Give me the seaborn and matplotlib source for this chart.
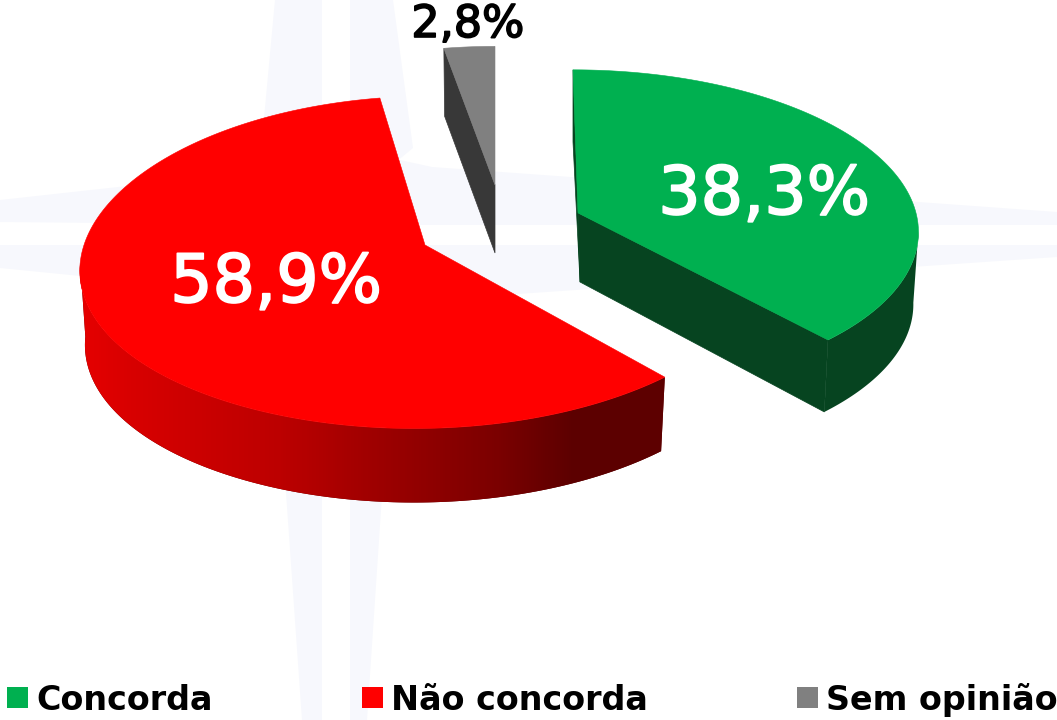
import numpy as np
import matplotlib
matplotlib.use("Agg")
import matplotlib.pyplot as plt
import matplotlib.patheffects as pe
from matplotlib.colors import LinearSegmentedColormap
from matplotlib.patches import Polygon, Rectangle
import seaborn as sns

categories = ["Concorda", "Não concorda", "Sem opinião"]
shares = [38.3, 58.9, 2.8]
share_labels = ["38,3%", "58,9%", "2,8%"]
top_colors = ["#00B050", "#FF0000", "#808080"]
wall_colors = ["#064420", "#5E0000", "#383838"]

sns.set_theme(style="white")
plt.rcParams["font.family"] = ["DejaVu Sans"]

W, H = 1057, 720
fig = plt.figure(figsize=(W / 100, H / 100), dpi=100)
ax = fig.add_axes([0, 0, 1, 1])

# faint watermark star behind the pie
WM = "#F7F8FD"
for pts in [
    [(275, 0), (322, 0), (322, 140), (262, 140)],
    [(350, 0), (393, 0), (413, 148), (350, 200)],
    [(350, 225), (400, 160), (432, 167), (1057, 212), (1057, 225)],
    [(350, 245), (1057, 245), (1057, 257), (430, 300), (350, 300)],
    [(0, 200), (200, 178), (322, 180), (322, 225), (0, 222)],
    [(0, 245), (322, 245), (322, 300), (0, 268)],
    [(322, 450), (322, 720), (302, 720), (283, 450)],
    [(350, 450), (385, 450), (367, 720), (350, 720)],
]:
    ax.add_patch(Polygon(pts, closed=True, fc=WM, ec="none", zorder=0))

P = 0.1036
DEPTH_SCALE = 0.985


def project(theta, apex, A, B, shear, bulge=0.0, depth=0.0, scale=1.0):
    """theta clockwise from 12 o'clock; returns screen x, y with simple perspective."""
    theta = np.atleast_1d(theta)
    s = 1 / (1 + P * np.cos(theta))
    dy = -B * np.cos(theta) * s
    left = np.where(np.sin(theta) < 0, np.sin(theta) ** 2, 0.0)
    dx = A * scale * np.sin(theta) * s + shear * dy - bulge * dy * left
    return apex[0] + dx, apex[1] + dy + depth


def bound(pts_x, pts_y):
    return np.column_stack([pts_x, pts_y])


red_side = LinearSegmentedColormap.from_list(
    "red_side",
    [(0, "#E80000"), (0.1, "#D80000"), (0.35, "#BC0000"), (0.5, "#A00000"),
     (0.72, "#7A0000"), (0.84, "#5C0000"), (1, "#5E0000")],
)

edges = np.deg2rad(np.cumsum([0] + shares) * 3.6)
geom = [
    dict(apex=(578, 213), A=338, B=158, shear=0.035, depth=72, vis=(96, 138)),
    dict(apex=(425, 245), A=341, B=164.5, shear=-0.06, bulge=0.05, depth=74, vis=(137, 264)),
    dict(apex=(495, 185), A=322, B=153, shear=0.0, depth=68, vis=None),
]

for i in [2, 0, 1]:
    g = geom[i]
    a0, a1 = edges[i], edges[i + 1]
    th = np.linspace(a0, a1, 240)
    kw = {k: g[k] for k in ("apex", "A", "B", "shear") if k in g}
    kw["bulge"] = g.get("bulge", 0.0)
    tx, ty = project(th, **kw)
    bx, by = project(th, depth=g["depth"], scale=DEPTH_SCALE, **kw)
    low_apex = (g["apex"][0] + (2 if i == 0 else 0), g["apex"][1] + g["depth"] - (3 if i == 0 else 0))

    if g["vis"] is not None:
        keep = (th >= np.deg2rad(g["vis"][0])) & (th <= np.deg2rad(max(g["vis"][1], 138.0)))
        rim = Polygon(np.vstack([bound(tx[keep], ty[keep]), bound(bx[keep], by[keep])[::-1]]),
                      closed=True, fc=wall_colors[i], ec="none", zorder=2)
        ax.add_patch(rim)
        if i == 1:
            grad = np.linspace(0, 1, 600)[None, :]
            im = ax.imshow(grad, cmap=red_side, extent=(70, 670, 520, 250), aspect="auto",
                           interpolation="bilinear", zorder=2.1)
            im.set_clip_path(rim)
    if i != 1:
        for k in ([0, -1] if i == 0 else [0]):
            wall = [g["apex"], (tx[k], ty[k]), (bx[k], by[k]), low_apex]
            ax.add_patch(Polygon(wall, closed=True, fc=wall_colors[i], ec=wall_colors[i],
                                 lw=0.5, zorder=2))

    top = np.vstack([[g["apex"]], bound(tx, ty)])
    ax.add_patch(Polygon(top, closed=True, fc=top_colors[i], ec=top_colors[i], lw=0.4, zorder=3))

ax.set_xlim(0, W)
ax.set_ylim(H, 0)
ax.axis("off")

# ---- share labels
heavy_w = [pe.withStroke(linewidth=1.3, foreground="white")]
heavy_k = [pe.withStroke(linewidth=1.2, foreground="black")]
ax.text(764, 214, share_labels[0], color="white", fontsize=48,
        ha="center", va="baseline", zorder=5, path_effects=heavy_w)
ax.text(276, 302, share_labels[1], color="white", fontsize=48,
        ha="center", va="baseline", zorder=5, path_effects=heavy_w)
ax.text(468, 37, share_labels[2], color="black", fontsize=32,
        ha="center", va="baseline", zorder=5, path_effects=heavy_k)

# ---- legend
legend_x = [7, 362, 797]
for x, name, c in zip(legend_x, categories, top_colors):
    ax.add_patch(Rectangle((x, 687), 21, 21, fc=c, ec="none", zorder=5))
    ax.text(x + 29, 710, name, color="black", fontsize=24, fontweight="bold",
            ha="left", va="baseline", zorder=5)

fig.savefig("out.png", dpi=100)
